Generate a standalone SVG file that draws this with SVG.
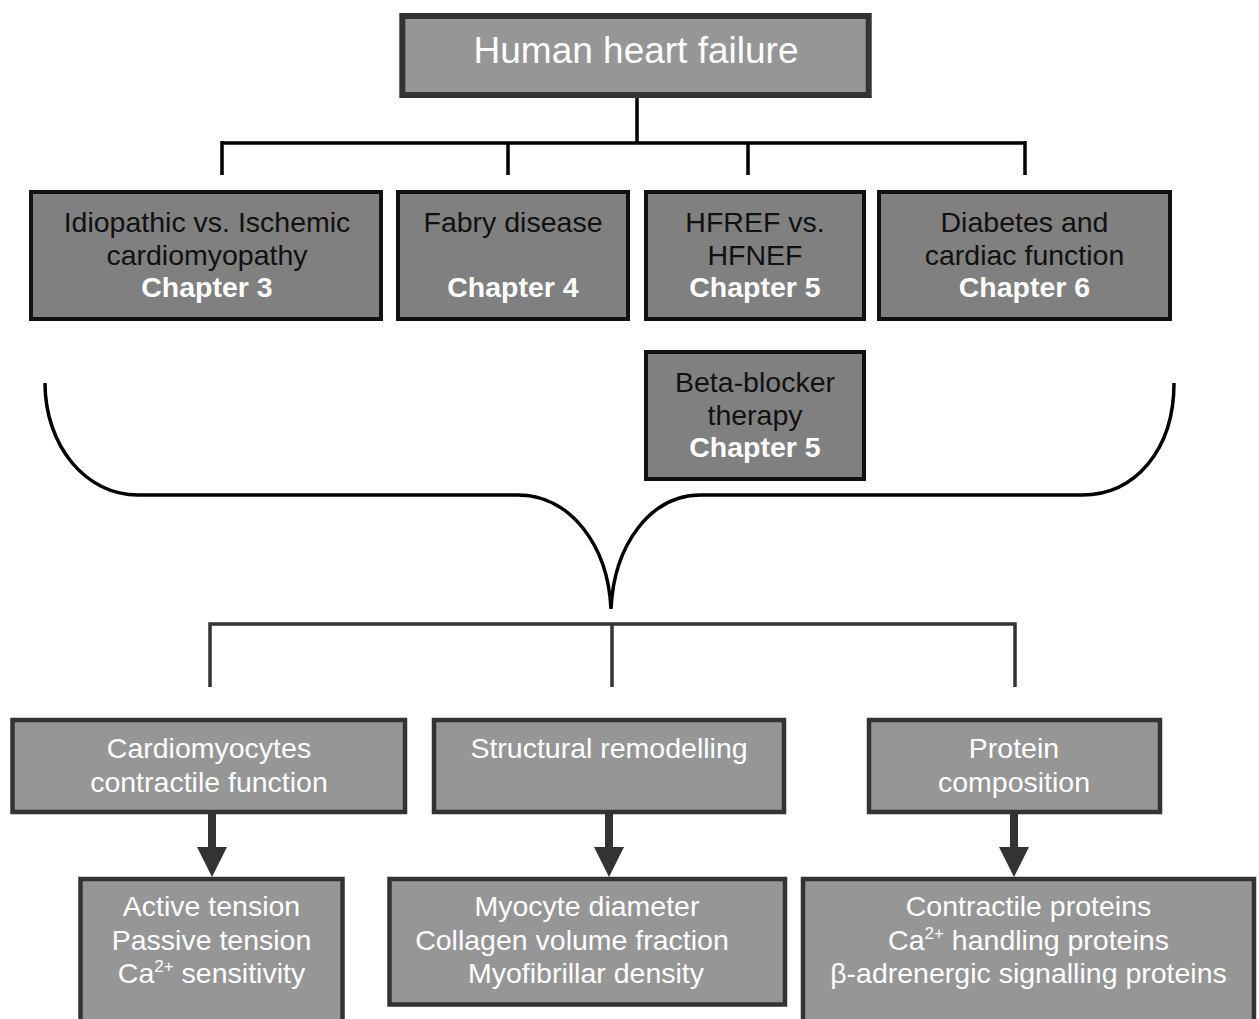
<svg xmlns="http://www.w3.org/2000/svg" width="1259" height="1019" viewBox="0 0 1259 1019">
<defs>
<style>
.top{fill:#969696;stroke:#333;stroke-width:6}
.ch{fill:#808080;stroke:#111;stroke-width:4}
.low{fill:#969696;stroke:#333;stroke-width:4.5}
.t{font-family:"Liberation Sans",Arial,sans-serif;font-size:28.5px;text-anchor:middle}
.blk{fill:#111}
.wht{fill:#fff}
.b{font-weight:bold}
.c1{fill:none;stroke:#000;stroke-width:3.5}
.c2{fill:none;stroke:#333;stroke-width:3.5}
.brace{fill:none;stroke:#000;stroke-width:3.5}
.arr{fill:#333;stroke:none}
</style>
</defs>
<rect width="1259" height="1019" fill="#fff"/>

<g id="connectors">
<path class="c1" d="M637,97 V143 M222,143 H1025 M222,141 V175 M508,143 V175 M748,143 V175 M1025,141 V175"/>
<path class="brace" d="M45,383 C45,445 85,495 138,495 L518,495 C570,495 608,545 611,609 M611,609 C614,545 650,495 701,495 L1082,495 C1135,495 1174,450 1174,383"/>
<path class="c2" d="M210,624 H1015 M210,622.3 V687 M612,624 V687 M1015,622.3 V687"/>
<g class="arr">
<rect x="208" y="814" width="8" height="34"/><polygon points="197,847 227,847 212,877"/>
<rect x="605" y="814" width="8" height="34"/><polygon points="594,847 624,847 609,877"/>
<rect x="1010" y="814" width="8" height="34"/><polygon points="999,847 1029,847 1014,877"/>
</g>
</g>

<g id="n-hhf">
<rect class="top" x="402.3" y="16" width="466.4" height="79"/>
<text class="t wht" x="636" y="63" style="font-size:37px">Human heart failure</text>
</g>

<g id="n-ch3">
<rect class="ch" x="31" y="192" width="350" height="127"/>
<text class="t blk" x="207" y="232">Idiopathic vs. Ischemic</text>
<text class="t blk" x="207" y="264.5">cardiomyopathy</text>
<text class="t wht b" x="207" y="297">Chapter 3</text>
</g>

<g id="n-ch4">
<rect class="ch" x="398" y="192" width="230" height="127"/>
<text class="t blk" x="513" y="232">Fabry disease</text>
<text class="t wht b" x="513" y="297">Chapter 4</text>
</g>

<g id="n-ch5a">
<rect class="ch" x="646" y="192" width="218" height="127"/>
<text class="t blk" x="755" y="232">HFREF vs.</text>
<text class="t blk" x="755" y="264.5">HFNEF</text>
<text class="t wht b" x="755" y="297">Chapter 5</text>
</g>

<g id="n-ch6">
<rect class="ch" x="879" y="192" width="291" height="127"/>
<text class="t blk" x="1024.5" y="232">Diabetes and</text>
<text class="t blk" x="1024.5" y="264.5">cardiac function</text>
<text class="t wht b" x="1024.5" y="297">Chapter 6</text>
</g>

<g id="n-ch5b">
<rect class="ch" x="646" y="352" width="218" height="127"/>
<text class="t blk" x="755" y="392">Beta-blocker</text>
<text class="t blk" x="755" y="424.5">therapy</text>
<text class="t wht b" x="755" y="457">Chapter 5</text>
</g>

<g id="n-cardio">
<rect class="low" x="12.5" y="720" width="392.5" height="92"/>
<text class="t wht" x="209" y="758">Cardiomyocytes</text>
<text class="t wht" x="209" y="791.5">contractile function</text>
</g>

<g id="n-struct">
<rect class="low" x="434" y="720" width="350" height="92"/>
<text class="t wht" x="609" y="758">Structural remodelling</text>
</g>

<g id="n-protein">
<rect class="low" x="869" y="720" width="291" height="92"/>
<text class="t wht" x="1014" y="758">Protein</text>
<text class="t wht" x="1014" y="791.5">composition</text>
</g>

<g id="n-tension">
<rect class="low" x="80.5" y="879" width="262" height="160"/>
<text class="t wht" x="211.5" y="916">Active tension</text>
<text class="t wht" x="211.5" y="950">Passive tension</text>
<text class="t wht" x="211.5" y="983">Ca<tspan dy="-11" style="font-size:17px">2+</tspan><tspan dy="11"> sensitivity</tspan></text>
</g>

<g id="n-myocyte">
<rect class="low" x="389.5" y="879" width="395.5" height="125.5"/>
<text class="t wht" x="587" y="916">Myocyte diameter</text>
<text class="t wht" x="572" y="950">Collagen volume fraction</text>
<text class="t wht" x="586" y="983">Myofibrillar density</text>
</g>

<g id="n-proteins">
<rect class="low" x="803" y="879" width="451" height="160"/>
<text class="t wht" x="1028.5" y="916">Contractile proteins</text>
<text class="t wht" x="1028.5" y="950">Ca<tspan dy="-11" style="font-size:17px">2+</tspan><tspan dy="11"> handling proteins</tspan></text>
<text class="t wht" x="1028.5" y="983">β-adrenergic signalling proteins</text>
</g>
</svg>
